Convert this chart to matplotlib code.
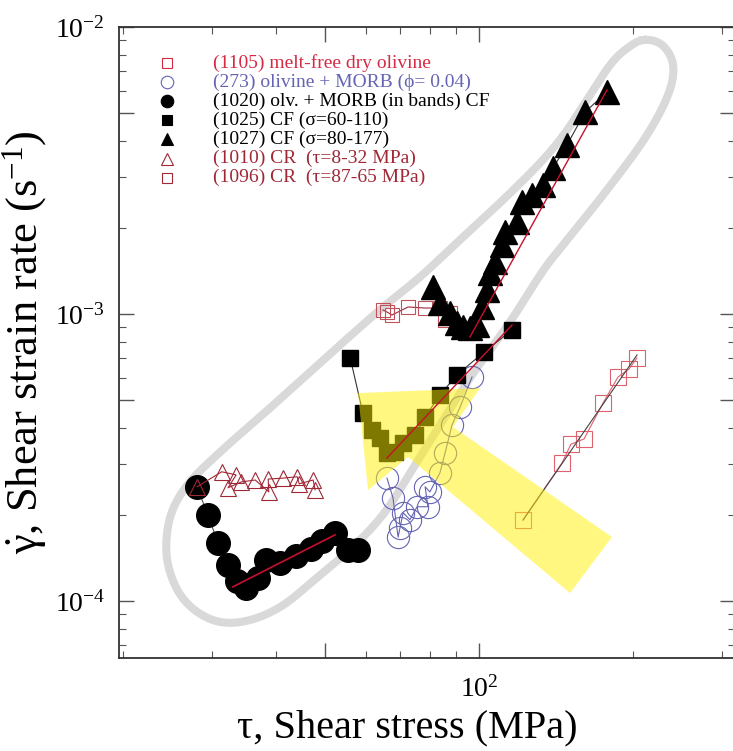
import numpy as np
import matplotlib
matplotlib.use("Agg")
import matplotlib.pyplot as plt
from matplotlib.ticker import LogLocator, LogFormatterSciNotation, NullFormatter

plt.rcParams["font.family"] = ["Liberation Serif", "DejaVu Serif"]
plt.rcParams["mathtext.fontset"] = "custom"
plt.rcParams["mathtext.rm"] = "Liberation Serif"
plt.rcParams["mathtext.it"] = "Liberation Serif:italic"
plt.rcParams["axes.unicode_minus"] = False

# (1020) olv. + MORB in bands, CF
s1020 = [28.0, 29.4, 30.8, 32.2, 33.5, 34.9, 36.9, 38.2, 40.7, 43.8, 46.8, 49.2, 52.2, 55.3, 57.9]
r1020 = [2.50e-4, 1.99e-4, 1.59e-4, 1.34e-4, 1.17e-4, 1.11e-4, 1.20e-4, 1.39e-4, 1.36e-4,
         1.44e-4, 1.52e-4, 1.62e-4, 1.73e-4, 1.50e-4, 1.50e-4]
fit1020_s = [32.9, 52.2]
fit1020_r = [1.12e-4, 1.70e-4]

# (1010) CR, tau = 8-32 MPa
s1010 = [28.0, 31.3, 33.4, 32.2, 34.2, 36.4, 38.7, 38.6, 41.3, 44.0, 44.4, 47.3, 47.7]
r1010 = [2.50e-4, 2.82e-4, 2.75e-4, 2.48e-4, 2.60e-4, 2.64e-4, 2.40e-4, 2.66e-4, 2.68e-4,
         2.71e-4, 2.56e-4, 2.64e-4, 2.44e-4]

# (273) olivine + MORB, phi = 0.04
s273 = [96.9, 91.8, 88.5, 85.8, 83.8, 80.1, 78.4, 79.4, 75.6, 73.2, 71.0, 70.0, 69.4, 67.8, 66.0]
r273 = [6.03e-4, 4.74e-4, 4.10e-4, 3.28e-4, 2.79e-4, 2.40e-4, 2.50e-4, 2.13e-4, 2.13e-4,
        1.92e-4, 2.03e-4, 1.80e-4, 1.67e-4, 2.29e-4, 2.68e-4]

# (1025) CF, sigma = 60-110
s1025 = [55.9, 59.2, 61.7, 63.9, 66.0, 68.4, 71.0, 74.9, 78.4, 83.8, 90.5, 102.3, 116.1]
r1025 = [7.03e-4, 4.52e-4, 3.94e-4, 3.70e-4, 3.28e-4, 3.31e-4, 3.55e-4, 3.79e-4, 4.38e-4,
         5.22e-4, 6.13e-4, 7.37e-4, 8.80e-4]
fit1025_s = [66.0, 116.1]
fit1025_r = [3.15e-4, 9.16e-4]

# (1027) CF, sigma = 80-177
s1027 = [81.2, 83.8, 87.7, 90.5, 93.0, 96.0, 99.1, 101.4, 103.7, 105.1, 107.5, 110.9, 112.4,
         118.7, 121.4, 127.0, 133.5, 139.7, 148.8, 161.4, 178.2]
r1027 = [1.242e-3, 1.092e-3, 1.008e-3, 9.30e-4, 9.01e-4, 8.94e-4, 9.16e-4, 1.058e-3, 1.212e-3,
         1.390e-3, 1.518e-3, 1.739e-3, 1.931e-3, 2.092e-3, 2.456e-3, 2.598e-3, 2.815e-3,
         3.227e-3, 3.880e-3, 5.056e-3, 5.936e-3]
fit1027_s = [96.0, 178.2]
fit1027_r = [8.32e-4, 6.03e-3]

# (1096) CR, tau = 87-65 MPa
s1096 = [87.7, 85.8, 83.8, 78.4, 72.6, 67.5, 66.0, 64.8]
r1096 = [1.008e-3, 9.53e-4, 1.049e-3, 1.049e-3, 1.058e-3, 9.92e-4, 1.016e-3, 1.033e-3]

# (1105) melt-free dry olivine
s1105 = [122.0, 145.5, 151.5, 160.7, 175.1, 187.3, 196.9, 204.1]
r1105 = [1.915e-4, 3.03e-4, 3.52e-4, 3.67e-4, 4.90e-4, 6.03e-4, 6.43e-4, 7.03e-4]
fit1105_s = [122.0, 204.1]
fit1105_r = [1.915e-4, 7.20e-4]

# outline around the melt-bearing data
loop_s = [209.7, 228.5, 240.2, 234.8, 211.6, 178.2, 154.3, 134.7, 115.0, 96.9, 83.8, 73.9,
          65.4, 57.1, 48.8, 41.3, 35.6, 31.1, 27.7, 25.5, 24.4, 24.8, 26.8, 31.1, 38.9,
          53.4, 63.9, 76.6, 92.6, 111.4, 131.7, 147.4, 165.1, 180.7, 193.4]
loop_r = [9.01e-3, 8.66e-3, 7.37e-3, 5.80e-3, 4.10e-3, 2.705e-3, 1.962e-3, 1.446e-3, 9.38e-4,
          6.13e-4, 4.10e-4, 2.86e-4, 2.042e-4, 1.567e-4, 1.232e-4, 9.68e-5, 8.59e-5, 8.45e-5,
          9.30e-5, 1.110e-4, 1.446e-4, 1.962e-4, 2.536e-4, 3.31e-4, 4.70e-4, 7.80e-4, 1.033e-3,
          1.346e-3, 1.840e-3, 2.496e-3, 3.358e-3, 4.27e-3, 5.80e-3, 7.37e-3, 8.32e-3]

# big yellow arrow pointing back toward the weakening branch
arrow_s = [57.9, 100.5, 88.9, 182.3, 150.8, 72.6, 60.6]
arrow_r = [5.30e-4, 5.52e-4, 4.04e-4, 1.671e-4, 1.066e-4, 3.18e-4, 2.436e-4]

RED = "#d42a44"
PINK = "#e0606e"
BLUE = "#6464b4"
DARKRED = "#a02836"
FIT = "#c8102e"

legend_labels = [
    "(1105) melt-free dry olivine",
    "(273) olivine + MORB (\u03d5= 0.04)",
    "(1020) olv. + MORB (in bands) CF",
    "(1025) CF (\u03c3=60-110)",
    "(1027) CF (\u03c3=80-177)",
    "(1010) CR  (\u03c4=8-32 MPa)",
    "(1096) CR  (\u03c4=87-65 MPa)",
]
legend_colors = [RED, BLUE, "black", "black", "black", DARKRED, DARKRED]
legend_markers = ["s", "o", "o", "s", "^", "^", "s"]
legend_filled = [False, False, True, True, True, False, False]
legend_msize = [7, 9, 9, 7, 8, 9, 7]


def smooth_closed(xs, ys, n=24):
    pts = np.column_stack([np.log10(xs), np.log10(ys)])
    N = len(pts)
    t = np.linspace(0, 1, n, endpoint=False)[:, None]
    segs = []
    for i in range(N):
        p0, p1, p2, p3 = pts[(i - 1) % N], pts[i], pts[(i + 1) % N], pts[(i + 2) % N]
        segs.append(0.5 * (2 * p1 + (-p0 + p2) * t + (2 * p0 - 5 * p1 + 4 * p2 - p3) * t ** 2
                           + (-p0 + 3 * p1 - 3 * p2 + p3) * t ** 3))
    out = np.vstack(segs + [segs[0][:1]])
    return 10 ** out[:, 0], 10 ** out[:, 1]


fig = plt.figure(figsize=(7.33, 7.51), dpi=100)
ax = fig.add_axes([119 / 733, 93 / 751, 616 / 733, 631 / 751])
ax.set_xscale("log")
ax.set_yscale("log")
ax.set_xlim(19.68, 317.7)
ax.set_ylim(6.33e-5, 1e-2)

lx, ly = smooth_closed(loop_s, loop_r)
ax.plot(lx, ly, color="#d9d9d9", lw=5.8, zorder=1, solid_joinstyle="round")

# 1020
ax.plot(s1020[:5], r1020[:5], color="#555555", lw=0.8, zorder=2)
ax.plot(s1020, r1020, "o", ms=17, color="black", zorder=3)
ax.plot(fit1020_s, fit1020_r, color=FIT, lw=1.2, zorder=4)

# 1010
ax.plot(s1010, r1010, color=DARKRED, lw=0.8, marker="^", ms=11, mfc="none",
        mec=DARKRED, mew=0.8, zorder=4)

# 273
ax.plot(s273, r273, color=BLUE, lw=0.8, marker="o", ms=16, mfc="none", mec=BLUE,
        mew=0.8, zorder=3)

# 1025
ax.plot(s1025, r1025, color="#333333", lw=0.8, zorder=3)
ax.plot(s1025, r1025, "s", ms=12, color="black", zorder=3)
ax.plot(fit1025_s, fit1025_r, color=FIT, lw=1.0, zorder=6)

# 1096
ax.plot(s1096, r1096, color=DARKRED, lw=0.8, marker="s", ms=10, mfc="none",
        mec="#c0505a", mew=0.8, zorder=3)

# 1027
ax.plot(s1027, r1027, color="#333333", lw=0.8, zorder=3)
ax.plot(s1027, r1027, "^", ms=17, color="black", zorder=4)
ax.plot(fit1027_s, fit1027_r, color=FIT, lw=1.0, zorder=5)

# 1105
ax.plot(s1105, r1105, color=PINK, lw=0.8, marker="s", ms=12, mfc="none", mec=PINK,
        mew=0.8, zorder=3)
ax.plot(fit1105_s, fit1105_r, color="#444444", lw=0.8, zorder=4)

ax.fill(arrow_s, arrow_r, color="#fff000", alpha=0.5, lw=0, zorder=5)

# hand-made key in the upper left
for i, (lab, col, mk, filled, ms) in enumerate(zip(legend_labels, legend_colors, legend_markers,
                                                   legend_filled, legend_msize)):
    yy = 0.943 - i * 0.0303
    ax.plot([0.078], [yy], marker=mk, ms=ms, mfc=col if filled else "none", mec=col, mew=0.8,
            transform=ax.transAxes, clip_on=False, zorder=7)
    ax.text(0.1526, yy, lab, color=col, fontsize=14, va="center", ha="left",
            transform=ax.transAxes, zorder=7)

for axis in (ax.xaxis, ax.yaxis):
    axis.set_major_locator(LogLocator(base=10, subs=(1.0, 5.0)))
    axis.set_major_formatter(LogFormatterSciNotation(labelOnlyBase=True))
    axis.set_minor_locator(LogLocator(base=10, subs=(2, 3, 4, 6, 7, 8, 9)))
    axis.set_minor_formatter(NullFormatter())
ax.tick_params(which="both", direction="in", top=True, right=True, color="#555555")
ax.tick_params(which="major", length=11, width=1.0, labelsize=20)
ax.tick_params(which="minor", length=5, width=0.8)
ax.tick_params(axis="x", which="major", pad=13)
ax.tick_params(axis="y", which="major", pad=10)
for sp in ax.spines.values():
    sp.set_linewidth(1.3)
    sp.set_color("#333333")

fig.text(407 / 733, 1 - 728 / 751, "\u03c4, Shear stress (MPa)", fontsize=29,
         ha="center", va="center")
fig.text(25 / 733, 1 - 342 / 751, r"$\mathrm{\dot{\gamma}}$, Shear strain rate (s$^{-1}$)",
         fontsize=32, ha="center", va="center", rotation=90)

fig.savefig("out.png", dpi=100)
